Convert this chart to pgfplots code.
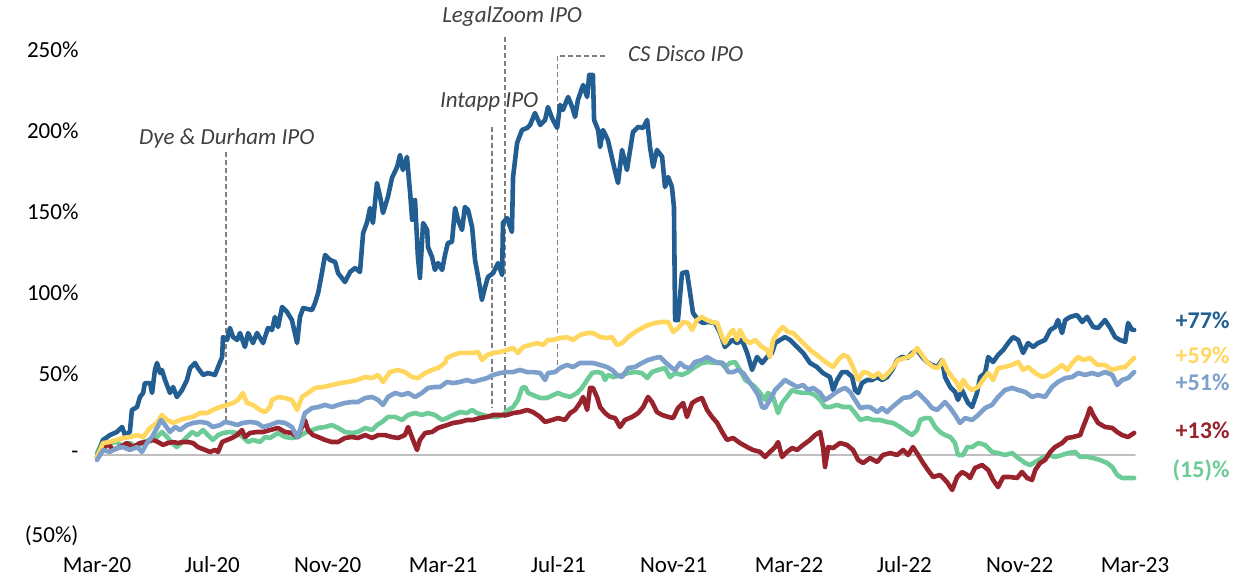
\documentclass[border=0pt]{standalone}
\usepackage{fontspec}
\setmainfont{Carlito}
\usepackage{pgfplots}
\pgfplotsset{compat=1.18}
\definecolor{cBlue}{RGB}{34,94,145}
\definecolor{cYellow}{RGB}{255,215,95}
\definecolor{cLight}{RGB}{124,159,203}
\definecolor{cRed}{RGB}{152,35,45}
\definecolor{cGreen}{RGB}{108,203,150}
\definecolor{cAnn}{RGB}{64,64,64}
\definecolor{cDash}{RGB}{128,128,128}
\definecolor{cZero}{RGB}{191,191,191}
\begin{document}
\begin{tikzpicture}[x=1pt,y=1pt]
\useasboundingbox (0,0) rectangle (1253,580);
\begin{axis}[
  at={(97pt,44pt)}, anchor=south west,
  scale only axis, width=1038pt, height=486pt,
  xmin=0, xmax=36, ymin=-50, ymax=250,
  clip=false,
  axis line style={draw=none},
  major tick length=0pt,
  xtick={0,4,8,12,16,20,24,28,32,36},
  xticklabels={Mar-20,Jul-20,Nov-20,Mar-21,Jul-21,Nov-21,Mar-22,Jul-22,Nov-22,Mar-23},
  ytick={-50,0,50,100,150,200,250},
  yticklabels={(50\%),-,50\%,100\%,150\%,200\%,250\%},
  /pgf/number format/assume math mode=true,
  tick label style={font=\fontsize{23}{26}\selectfont, text=black},
  yticklabel style={anchor=east, xshift=-15pt},
  xticklabel style={anchor=base, yshift=-37pt},
  every axis plot/.append style={line width=4.6pt, line join=round, line cap=round, no markers},
]
% zero line
\addplot[cZero, line width=2pt] coordinates {(0,0) (36,0)};
% IPO markers
\draw[cDash, line width=1.3pt, dash pattern=on 5pt off 3pt] (axis cs:4.47,187) -- (axis cs:4.47,21.6);
\draw[cDash, line width=1.3pt, dash pattern=on 5pt off 3pt] (axis cs:13.70,202.5) -- (axis cs:13.70,29.6);
\draw[cDash, line width=1.3pt, dash pattern=on 5pt off 3pt] (axis cs:14.15,258) -- (axis cs:14.15,22.8);
\draw[cDash, line width=1.3pt, dash pattern=on 5pt off 3pt] (axis cs:17.62,246.3) -- (axis cs:15.96,246.3) -- (axis cs:15.96,53.7);
\node[font=\fontsize{23}{26}\selectfont\itshape, text=cAnn] at (axis cs:4.5,195.7) {Dye \& Durham IPO};
\node[font=\fontsize{23}{26}\selectfont\itshape, text=cAnn] at (axis cs:13.6,217.9) {Intapp IPO};
\node[font=\fontsize{23}{26}\selectfont\itshape, text=cAnn] at (axis cs:14.4,270.4) {LegalZoom IPO};
\node[font=\fontsize{23}{26}\selectfont\itshape, text=cAnn, anchor=west] at (axis cs:18.3,247.5) {CS Disco IPO};
% green
\addplot[cGreen] coordinates {
(0,1.2)(0.21,9.3)(0.45,7.4)(0.69,8.0)(0.90,4.9)(1.14,7.4)(1.39,4.9)(1.60,8.0)(1.84,9.3)(2.08,11.1)(2.25,14.2)(2.43,11.1)(2.60,7.4)(2.77,4.9)(2.95,8.0)(3.12,11.1)(3.30,14.2)(3.47,12.3)(3.68,15.4)(3.85,12.3)(4.02,9.3)(4.20,12.3)(4.37,13.6)(4.61,14.2)(4.86,13.6)(5.06,11.1)(5.24,8.0)(5.41,9.3)(5.65,8.0)(5.83,11.1)(6.00,10.5)(6.28,13.6)(6.52,11.1)(6.76,10.5)(6.97,11.1)(7.21,13.6)(7.46,15.4)(7.67,16.7)(7.91,17.3)(8.15,18.5)(8.36,16.7)(8.60,14.2)(8.84,13.6)(9.05,14.2)(9.30,16.7)(9.54,15.4)(9.71,18.5)(9.89,20.4)(10.09,23.5)(10.34,23.5)(10.58,21.6)(10.79,24.7)(11.03,25.9)(11.27,24.7)(11.48,25.9)(11.72,24.7)(11.97,21.6)(12.14,22.8)(12.35,24.7)(12.59,26.5)(12.83,25.9)(13.01,27.8)(13.18,25.9)(13.39,24.7)(13.63,23.5)(13.87,23.5)(14.08,24.7)(14.26,27.8)(14.43,29.6)(14.60,34.0)(14.74,41.4)(14.85,42.0)(14.95,38.3)(15.12,37.0)(15.37,35.2)(15.61,35.2)(15.82,37.0)(15.99,38.3)(16.16,37.0)(16.41,35.8)(16.65,38.3)(16.82,41.4)(17.00,46.3)(17.17,50.6)(17.34,51.2)(17.52,50.6)(17.62,46.3)(17.72,49.4)(17.90,48.1)(18.21,49.4)(18.42,50.6)(18.66,51.2)(18.90,50.6)(19.08,47.5)(19.25,51.2)(19.46,52.5)(19.70,53.7)(19.87,48.1)(20.05,50.6)(20.29,49.4)(20.50,51.2)(20.74,54.3)(20.98,56.8)(21.19,57.4)(21.44,56.8)(21.61,57.4)(21.78,54.3)(21.96,56.8)(22.13,57.4)(22.30,52.5)(22.48,46.3)(22.65,44.4)(22.82,42.0)(23.00,38.3)(23.17,34.0)(23.27,38.3)(23.45,35.8)(23.62,25.9)(23.76,32.1)(23.93,35.8)(24.11,40.1)(24.28,38.9)(24.49,38.3)(24.73,38.3)(24.90,37.0)(25.08,34.0)(25.25,29.6)(25.42,29.6)(25.67,30.9)(25.88,29.6)(26.12,29.6)(26.29,25.9)(26.47,21.6)(26.71,22.8)(26.92,21.6)(27.16,21.6)(27.40,20.4)(27.61,19.8)(27.85,17.3)(28.10,14.2)(28.27,12.3)(28.44,15.4)(28.55,21.6)(28.72,22.8)(28.89,22.8)(29.07,17.3)(29.24,14.2)(29.41,12.3)(29.59,11.1)(29.76,7.4)(29.86,0)(30.04,0)(30.18,4.9)(30.35,4.9)(30.56,7.4)(30.80,6.2)(31.04,1.9)(31.25,1.2)(31.49,0)(31.74,1.2)(31.95,-1.9)(32.19,-4.9)(32.36,-6.2)(32.54,-4.3)(32.78,-1.9)(32.99,0)(33.23,-1.2)(33.47,0)(33.68,1.2)(33.92,1.9)(34.10,-1.2)(34.34,-1.2)(34.55,-1.9)(34.79,-3.1)(35.03,-4.9)(35.21,-7.4)(35.38,-12.3)(35.55,-14.2)(35.76,-14.2)(35.97,-14.2)
};
% red
\addplot[cRed] coordinates {
(0,-1.2)(0.21,3.1)(0.38,7.4)(0.55,3.1)(0.80,4.9)(1.04,7.4)(1.25,4.9)(1.49,7.4)(1.73,8.0)(1.94,9.3)(2.12,8.0)(2.29,6.2)(2.46,7.4)(2.64,8.0)(2.81,7.4)(2.98,8.0)(3.16,8.0)(3.33,7.4)(3.50,4.9)(3.75,3.1)(3.92,1.9)(4.09,3.1)(4.20,1.9)(4.34,8.0)(4.51,9.3)(4.68,10.5)(4.86,12.3)(5.03,15.4)(5.13,11.1)(5.31,13.6)(5.55,14.2)(5.76,14.2)(6.00,15.4)(6.28,16.7)(6.52,14.2)(6.76,13.6)(6.94,11.1)(7.11,17.3)(7.21,21.6)(7.32,15.4)(7.49,12.3)(7.67,11.1)(7.91,9.3)(8.15,8.0)(8.36,8.0)(8.60,10.5)(8.84,11.1)(9.05,10.5)(9.30,12.3)(9.54,10.5)(9.75,12.3)(9.99,12.3)(10.23,11.1)(10.44,10.5)(10.68,12.3)(10.79,17.3)(10.96,9.3)(11.10,3.1)(11.20,9.3)(11.38,13.6)(11.62,14.2)(11.83,16.7)(12.14,18.5)(12.35,19.8)(12.59,20.4)(12.83,21.6)(13.04,21.6)(13.28,22.8)(13.53,23.5)(13.74,24.7)(13.98,24.7)(14.22,24.7)(14.43,25.9)(14.67,26.5)(14.92,27.8)(15.12,26.5)(15.37,23.5)(15.54,20.4)(15.78,21.6)(15.99,22.8)(16.23,21.6)(16.41,25.9)(16.58,27.8)(16.75,32.1)(16.86,35.8)(17.00,27.8)(17.10,41.4)(17.20,41.4)(17.34,35.8)(17.45,29.6)(17.62,25.9)(17.79,23.5)(17.97,22.8)(18.14,17.3)(18.31,21.6)(18.56,23.5)(18.77,25.9)(18.94,29.6)(19.11,35.8)(19.25,32.7)(19.42,26.5)(19.60,24.7)(19.81,23.5)(19.98,22.8)(20.15,29.0)(20.33,32.1)(20.46,23.5)(20.64,32.1)(20.81,34.0)(20.98,35.2)(21.16,27.8)(21.33,23.5)(21.51,19.8)(21.68,14.2)(21.85,9.3)(22.06,10.5)(22.30,7.4)(22.55,4.9)(22.75,3.1)(23.00,1.9)(23.17,-1.2)(23.34,1.9)(23.52,4.9)(23.62,8.0)(23.76,-1.2)(23.93,1.9)(24.11,4.3)(24.28,3.1)(24.49,6.2)(24.73,9.3)(24.90,12.3)(25.08,14.2)(25.18,4.9)(25.25,-7.4)(25.36,4.9)(25.53,4.3)(25.77,7.4)(26.01,6.2)(26.22,3.1)(26.40,-3.1)(26.57,-4.9)(26.81,-1.9)(27.06,-4.3)(27.26,0)(27.51,1.2)(27.75,0)(27.96,3.1)(28.13,0)(28.30,4.9)(28.48,0)(28.65,-4.9)(28.82,-9.3)(29.00,-13.6)(29.24,-12.3)(29.48,-16.7)(29.66,-21.6)(29.83,-13.6)(30.00,-10.5)(30.18,-12.3)(30.28,-14.2)(30.45,-8.0)(30.70,-6.2)(30.91,-9.3)(31.08,-15.4)(31.25,-19.8)(31.43,-13.6)(31.67,-13.6)(31.91,-14.2)(32.08,-10.5)(32.26,-14.2)(32.43,-15.4)(32.54,-9.3)(32.71,-4.9)(32.88,-3.1)(33.06,1.9)(33.23,4.9)(33.47,7.4)(33.65,10.5)(33.85,11.1)(34.10,12.3)(34.20,17.3)(34.34,23.5)(34.44,29.0)(34.55,24.7)(34.72,19.8)(34.96,17.3)(35.21,16.7)(35.38,14.2)(35.55,12.3)(35.76,11.1)(35.97,13.6)
};
% dark blue
\addplot[cBlue] coordinates {
(0,-1.2)(0.21,9.3)(0.45,12.3)(0.69,14.2)(0.87,17.3)(0.97,12.3)(1.14,14.2)(1.21,27.8)(1.39,29.6)(1.49,35.8)(1.60,38.3)(1.66,44.4)(1.84,44.4)(1.91,38.3)(2.01,52.5)(2.08,56.8)(2.19,50.6)(2.25,52.5)(2.36,46.3)(2.53,38.3)(2.64,42.0)(2.77,35.8)(2.95,40.1)(3.12,46.3)(3.23,53.7)(3.40,56.8)(3.50,53.7)(3.68,49.4)(3.85,50.6)(4.09,49.4)(4.20,54.3)(4.34,60.5)(4.37,72.8)(4.51,71.0)(4.61,78.4)(4.72,72.8)(4.86,71.0)(4.96,75.3)(5.13,66.7)(5.24,75.3)(5.41,69.1)(5.55,75.3)(5.76,69.1)(5.93,78.4)(6.07,77.2)(6.17,85.2)(6.28,79.0)(6.42,91.4)(6.59,88.3)(6.76,83.3)(6.94,69.1)(7.04,85.2)(7.15,90.7)(7.46,89.5)(7.56,93.8)(7.67,100.0)(7.80,112.3)(7.91,123.5)(8.08,120.4)(8.26,119.1)(8.36,112.3)(8.60,106.8)(8.78,113.0)(8.95,115.4)(9.12,113.0)(9.23,137.0)(9.37,143.8)(9.47,152.5)(9.57,143.2)(9.71,167.9)(9.82,159.3)(9.92,149.4)(10.09,159.3)(10.23,171.0)(10.41,177.8)(10.51,185.2)(10.61,175.9)(10.75,184.0)(10.86,161.7)(10.93,145.1)(11.03,157.4)(11.13,122.2)(11.20,109.3)(11.31,143.2)(11.45,138.9)(11.48,128.4)(11.62,122.2)(11.72,114.2)(11.83,118.5)(11.97,114.2)(12.07,123.5)(12.17,130.9)(12.31,131.5)(12.42,152.5)(12.52,145.1)(12.66,138.9)(12.76,153.1)(12.87,151.2)(13.01,140.7)(13.11,120.4)(13.22,109.9)(13.35,95.7)(13.46,103.7)(13.56,109.9)(13.74,112.3)(13.91,118.5)(14.05,111.1)(14.08,143.2)(14.22,146.3)(14.39,137.7)(14.43,171.6)(14.57,192.6)(14.74,200.6)(14.92,201.9)(15.02,203.7)(15.19,211.1)(15.37,203.7)(15.54,206.8)(15.64,214.8)(15.78,208.0)(15.96,201.9)(16.06,216.1)(16.16,213.0)(16.34,221.0)(16.48,214.8)(16.58,208.7)(16.68,219.1)(16.86,228.4)(17.00,221.0)(17.07,234.6)(17.20,234.6)(17.24,206.8)(17.38,200.6)(17.45,190.1)(17.55,200.6)(17.72,194.4)(17.90,180.3)(18.07,167.9)(18.21,188.3)(18.38,175.9)(18.49,188.3)(18.59,199.4)(18.77,202.5)(18.94,201.9)(19.08,206.8)(19.18,190.1)(19.29,177.8)(19.42,188.3)(19.60,184.0)(19.70,165.4)(19.81,171.6)(19.94,165.4)(20.01,153.1)(20.05,83.3)(20.15,83.3)(20.29,112.3)(20.46,113.0)(20.57,100.0)(20.67,87.7)(20.85,83.3)(21.02,81.5)(21.19,82.1)(21.44,81.5)(21.61,75.3)(21.78,66.7)(22.03,71.0)(22.20,69.1)(22.37,71.0)(22.55,63.0)(22.72,52.5)(22.89,60.5)(23.07,56.8)(23.24,60.5)(23.41,63.0)(23.52,69.1)(23.69,71.0)(23.86,72.8)(24.04,71.0)(24.28,66.7)(24.49,63.0)(24.73,56.8)(24.97,54.3)(25.18,50.6)(25.42,48.1)(25.53,40.1)(25.67,46.3)(25.84,51.2)(26.01,51.2)(26.19,48.1)(26.29,40.1)(26.40,38.3)(26.53,44.4)(26.71,46.3)(26.88,46.3)(27.06,48.1)(27.23,46.3)(27.40,48.1)(27.58,52.5)(27.75,58.6)(27.92,60.5)(28.10,59.9)(28.27,63.0)(28.44,64.8)(28.62,60.5)(28.79,57.4)(28.96,55.6)(29.14,54.3)(29.31,58.6)(29.41,48.1)(29.59,42.0)(29.76,38.9)(29.86,34.0)(30.00,40.1)(30.11,35.8)(30.21,32.1)(30.35,29.6)(30.52,38.3)(30.63,48.1)(30.80,50.6)(30.91,60.5)(31.08,57.4)(31.25,61.7)(31.43,64.8)(31.60,69.1)(31.77,72.8)(31.95,71.0)(32.12,63.0)(32.29,69.1)(32.47,66.7)(32.64,69.1)(32.88,71.0)(33.06,77.2)(33.23,79.0)(33.33,83.3)(33.47,75.3)(33.58,83.3)(33.75,85.2)(33.99,86.4)(34.17,82.1)(34.34,85.2)(34.55,79.0)(34.72,78.4)(34.96,83.3)(35.14,78.4)(35.31,72.8)(35.48,71.0)(35.66,69.8)(35.76,81.5)(35.90,77.2)(35.97,77.2)
};
% yellow
\addplot[cYellow] coordinates {
(0,-1.2)(0.21,7.4)(0.45,8.0)(0.69,9.3)(0.90,10.5)(1.14,11.1)(1.39,12.3)(1.60,11.1)(1.84,16.7)(2.08,19.8)(2.25,24.7)(2.43,21.6)(2.64,19.8)(2.88,21.6)(3.12,22.8)(3.33,23.5)(3.57,25.9)(3.82,25.9)(4.02,27.8)(4.27,29.6)(4.51,30.9)(4.72,32.1)(4.89,34.0)(5.06,38.3)(5.20,32.1)(5.41,30.9)(5.65,27.8)(5.83,26.5)(6.00,29.6)(6.07,34.0)(6.28,35.8)(6.52,35.2)(6.76,34.0)(6.94,27.8)(7.11,35.8)(7.32,38.3)(7.56,41.4)(7.84,42.0)(8.15,43.2)(8.43,44.4)(8.71,45.1)(9.02,46.3)(9.30,48.1)(9.54,47.5)(9.75,49.4)(9.92,45.1)(10.16,51.2)(10.44,52.5)(10.68,51.2)(10.93,48.1)(11.13,47.5)(11.38,50.6)(11.62,52.5)(11.83,53.7)(12.07,56.8)(12.14,59.9)(12.35,61.7)(12.59,63.0)(12.83,63.0)(13.04,63.0)(13.22,63.6)(13.35,58.6)(13.53,61.7)(13.74,63.0)(13.98,63.6)(14.22,64.8)(14.43,66.1)(14.60,63.0)(14.78,66.7)(15.02,67.9)(15.26,69.1)(15.47,67.9)(15.64,71.0)(15.82,71.0)(16.06,72.2)(16.30,72.8)(16.51,71.0)(16.75,74.1)(17.00,75.3)(17.20,75.3)(17.45,72.8)(17.69,72.2)(17.86,72.8)(18.04,67.9)(18.21,69.1)(18.42,72.8)(18.66,75.9)(18.90,78.4)(19.11,80.2)(19.35,81.5)(19.60,82.1)(19.81,82.1)(19.98,75.9)(20.15,78.4)(20.33,82.1)(20.50,81.5)(20.64,77.2)(20.81,83.3)(20.98,85.2)(21.16,83.3)(21.33,82.1)(21.51,81.5)(21.68,72.8)(21.78,69.1)(21.96,75.3)(22.06,77.2)(22.20,71.0)(22.30,77.2)(22.48,71.0)(22.65,69.1)(22.82,71.0)(23.07,66.7)(23.24,64.8)(23.34,60.5)(23.45,71.0)(23.62,75.9)(23.79,79.0)(23.97,75.9)(24.14,75.3)(24.28,72.8)(24.49,69.1)(24.73,64.8)(24.97,61.7)(25.18,58.6)(25.42,55.6)(25.53,54.3)(25.70,58.6)(25.88,61.7)(26.05,60.5)(26.22,54.3)(26.40,46.3)(26.57,51.2)(26.74,50.6)(26.92,48.1)(27.09,50.6)(27.26,47.5)(27.44,50.6)(27.61,54.3)(27.78,58.6)(28.03,59.9)(28.27,61.7)(28.44,66.1)(28.62,61.7)(28.79,57.4)(29.00,54.3)(29.17,53.7)(29.34,58.6)(29.48,52.5)(29.66,48.1)(29.83,44.4)(29.93,40.1)(30.04,46.3)(30.21,42.0)(30.35,40.1)(30.56,42.0)(30.73,46.3)(30.91,50.6)(31.08,46.3)(31.25,53.7)(31.49,54.3)(31.74,55.6)(31.95,57.4)(32.12,52.5)(32.29,54.3)(32.54,50.6)(32.78,48.1)(32.99,49.4)(33.23,52.5)(33.47,55.6)(33.65,52.5)(33.85,57.4)(34.03,60.5)(34.20,58.6)(34.44,59.9)(34.69,55.6)(34.96,55.6)(35.21,52.5)(35.41,53.7)(35.66,54.3)(35.83,57.4)(35.97,59.9)
};
% light blue
\addplot[cLight] coordinates {
(0,-3.1)(0.21,3.1)(0.45,1.9)(0.69,4.3)(0.90,4.9)(1.14,3.1)(1.39,4.9)(1.56,1.9)(1.73,7.4)(1.91,11.1)(2.08,16.7)(2.22,21.6)(2.36,18.5)(2.53,14.2)(2.71,17.3)(2.88,15.4)(3.12,18.5)(3.33,19.8)(3.57,20.4)(3.82,19.8)(4.02,17.3)(4.27,18.5)(4.44,20.4)(4.61,19.8)(4.86,18.5)(5.06,19.8)(5.31,20.4)(5.55,19.8)(5.76,17.3)(6.00,18.5)(6.28,20.4)(6.52,19.8)(6.76,17.3)(6.94,11.1)(7.04,15.4)(7.21,25.9)(7.46,29.0)(7.67,29.6)(7.91,30.9)(8.15,29.6)(8.36,30.9)(8.60,32.1)(8.84,32.7)(9.05,32.7)(9.30,35.2)(9.54,35.8)(9.75,34.0)(9.92,30.9)(10.09,35.8)(10.34,38.3)(10.58,37.0)(10.79,38.3)(11.03,35.8)(11.27,38.3)(11.48,41.4)(11.72,42.0)(11.90,42.0)(12.14,45.1)(12.35,44.4)(12.59,45.1)(12.83,46.3)(13.04,45.1)(13.28,46.3)(13.53,47.5)(13.74,49.4)(13.98,50.6)(14.22,51.2)(14.43,51.2)(14.67,52.5)(14.92,51.2)(15.12,51.2)(15.37,50.6)(15.54,46.3)(15.64,50.6)(15.89,51.2)(16.06,53.7)(16.30,55.6)(16.51,54.3)(16.75,56.8)(17.00,56.8)(17.20,56.8)(17.45,55.6)(17.69,54.3)(17.86,52.5)(18.04,49.4)(18.21,48.1)(18.42,53.7)(18.66,54.3)(18.90,56.8)(19.11,58.6)(19.35,59.9)(19.53,60.5)(19.70,57.4)(19.94,53.7)(20.05,52.5)(20.22,56.8)(20.39,54.3)(20.57,53.7)(20.74,57.4)(20.98,58.6)(21.16,60.5)(21.33,58.6)(21.54,56.8)(21.71,56.8)(21.89,51.2)(22.06,51.2)(22.23,52.5)(22.41,50.6)(22.58,46.3)(22.75,42.0)(22.93,37.0)(23.07,29.6)(23.17,29.0)(23.34,34.0)(23.52,40.1)(23.69,43.2)(23.86,46.3)(24.04,44.4)(24.28,42.0)(24.49,43.2)(24.66,40.1)(24.84,41.4)(25.08,38.3)(25.25,34.0)(25.42,35.8)(25.60,38.3)(25.77,40.1)(25.95,41.4)(26.12,38.9)(26.29,34.0)(26.47,29.0)(26.64,29.6)(26.81,29.6)(27.06,26.5)(27.23,29.0)(27.40,26.5)(27.58,29.6)(27.75,32.1)(27.96,35.2)(28.20,35.8)(28.44,38.9)(28.62,35.8)(28.79,32.7)(28.96,29.0)(29.14,27.8)(29.31,30.9)(29.41,32.7)(29.59,29.0)(29.76,24.7)(29.93,19.8)(30.11,22.8)(30.35,21.6)(30.56,24.7)(30.80,29.0)(31.04,30.9)(31.25,35.8)(31.49,40.1)(31.74,41.4)(31.95,40.1)(32.19,38.9)(32.43,35.8)(32.64,37.0)(32.88,35.8)(33.12,42.0)(33.33,45.1)(33.58,47.5)(33.82,48.1)(34.03,50.6)(34.27,49.4)(34.51,50.6)(34.72,49.4)(34.96,51.2)(35.21,49.4)(35.38,43.2)(35.55,46.3)(35.76,47.5)(35.97,51.2)
};
% end labels
\node[anchor=east, font=\fontsize{24}{28}\selectfont\bfseries, text=cBlue] at (axis cs:39.4,83.3) {+77\%};
\node[anchor=east, font=\fontsize{24}{28}\selectfont\bfseries, text=cYellow] at (axis cs:39.4,61.7) {+59\%};
\node[anchor=east, font=\fontsize{24}{28}\selectfont\bfseries, text=cLight] at (axis cs:39.4,45.1) {+51\%};
\node[anchor=east, font=\fontsize{24}{28}\selectfont\bfseries, text=cRed] at (axis cs:39.4,15.4) {+13\%};
\node[anchor=east, font=\fontsize{24}{28}\selectfont\bfseries, text=cGreen] at (axis cs:39.4,-9.3) {(15)\%};
\end{axis}
\end{tikzpicture}
\end{document}
